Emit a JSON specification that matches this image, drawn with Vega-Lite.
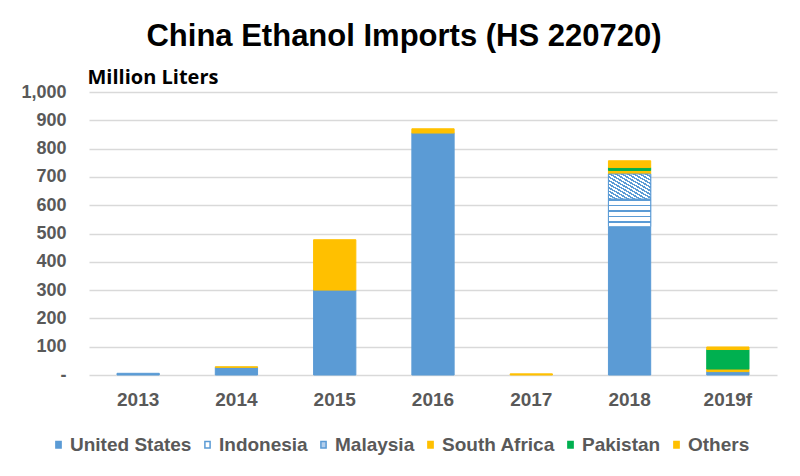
{
  "$schema": "https://vega.github.io/schema/vega-lite/v6.json",
  "width": 688,
  "height": 283,
  "autosize": {"type": "none"},
  "padding": {"left": 89, "top": 92, "right": 23, "bottom": 101},
  "background": "white",
  "title": {
    "text": "China Ethanol Imports (HS 220720)",
    "font": "Liberation Sans",
    "fontSize": 31,
    "fontWeight": "bold",
    "color": "#000000",
    "anchor": "middle",
    "frame": "group",
    "dx": -29,
    "offset": 14
  },
  "data": {
    "values": [
      {"year": "2013", "country": "United States", "value": 6},
      {"year": "2014", "country": "United States", "value": 27},
      {"year": "2014", "country": "Others", "value": 2},
      {"year": "2015", "country": "United States", "value": 300},
      {"year": "2015", "country": "South Africa", "value": 178},
      {"year": "2016", "country": "United States", "value": 855},
      {"year": "2016", "country": "Others", "value": 15},
      {"year": "2017", "country": "Others", "value": 4},
      {"year": "2018", "country": "United States", "value": 524},
      {"year": "2018", "country": "Indonesia", "value": 98},
      {"year": "2018", "country": "Malaysia", "value": 88},
      {"year": "2018", "country": "South Africa", "value": 13},
      {"year": "2018", "country": "Pakistan", "value": 10},
      {"year": "2018", "country": "Others", "value": 24},
      {"year": "2019f", "country": "United States", "value": 12},
      {"year": "2019f", "country": "South Africa", "value": 9},
      {"year": "2019f", "country": "Pakistan", "value": 69},
      {"year": "2019f", "country": "Others", "value": 9}
    ]
  },
  "transform": [
    {"calculate": "indexof(['United States','Indonesia','Malaysia','South Africa','Pakistan','Others'], datum.country)", "as": "ord"},
    {"stack": "value", "groupby": ["year"], "sort": [{"field": "ord", "order": "ascending"}], "as": ["v0", "v1"]}
  ],
  "encoding": {
    "x": {
      "field": "year",
      "type": "nominal",
      "scale": {"paddingInner": 0.57, "paddingOuter": 0.285},
      "axis": {
        "title": null,
        "labelAngle": 0,
        "labelFont": "Liberation Sans",
        "labelFontWeight": "bold",
        "labelFontSize": 19,
        "labelColor": "#595959",
        "labelPadding": 15,
        "ticks": false,
        "domain": false
      }
    },
    "y": {
      "field": "v0",
      "type": "quantitative",
      "scale": {"domain": [0, 1000], "nice": false},
      "axis": {
        "values": [0, 100, 200, 300, 400, 500, 600, 700, 800, 900, 1000],
        "labelExpr": "datum.value == 0 ? '-' : format(datum.value, ',')",
        "labelFont": "Liberation Sans",
        "labelFontWeight": "bold",
        "labelFontSize": 18,
        "labelColor": "#595959",
        "labelPadding": 23,
        "ticks": false,
        "domain": false,
        "gridColor": "#d9d9d9",
        "gridWidth": 1.5,
        "title": "Million Liters",
        "titleAngle": 0,
        "titleAlign": "left",
        "titleBaseline": "alphabetic",
        "titleX": -2,
        "titleY": -9,
        "titleFont": "Open Sans",
        "titleFontSize": 20,
        "titleFontWeight": "bold",
        "titleColor": "#000000"
      }
    },
    "y2": {"field": "v1"}
  },
  "layer": [
    {
      "mark": {"type": "bar", "strokeWidth": 1},
      "encoding": {
        "color": {
          "field": "country",
          "type": "nominal",
          "scale": {
            "domain": ["United States", "Indonesia", "Malaysia", "South Africa", "Pakistan", "Others"],
            "range": ["#5b9bd5", "#ffffff", "#b4cfec", "#ffc000", "#00b050", "#ffc000"]
          },
          "legend": {
            "title": null,
            "orient": "none",
            "direction": "horizontal",
            "legendX": -40,
            "legendY": 343,
            "labelFont": "Liberation Sans",
            "labelFontWeight": "bold",
            "labelFontSize": 19,
            "labelColor": "#595959",
            "labelOffset": 2,
            "columnPadding": 6,
            "symbolType": "M-0.4,-0.5H0.4V0.5H-0.4Z",
            "symbolSize": 169,
            "symbolStrokeWidth": 1.5
          }
        },
        "stroke": {
          "field": "country",
          "type": "nominal",
          "scale": {
            "domain": ["United States", "Indonesia", "Malaysia", "South Africa", "Pakistan", "Others"],
            "range": ["#5b9bd5", "#5b9bd5", "#5b9bd5", "#ffc000", "#00b050", "#ffc000"]
          },
          "legend": {
            "title": null,
            "orient": "none",
            "direction": "horizontal",
            "legendX": -40,
            "legendY": 343,
            "labelFont": "Liberation Sans",
            "labelFontWeight": "bold",
            "labelFontSize": 19,
            "labelColor": "#595959",
            "labelOffset": 2,
            "columnPadding": 6,
            "symbolType": "M-0.4,-0.5H0.4V0.5H-0.4Z",
            "symbolSize": 169,
            "symbolStrokeWidth": 1.5
          }
        }
      }
    },
    {
      "transform": [{"filter": "datum.country === 'Indonesia'"}],
      "mark": {
        "type": "bar",
        "stroke": "#5b9bd5",
        "strokeWidth": 1,
        "fill": {"gradient": "linear", "x1": 0, "y1": 0, "x2": 0, "y2": 1, "stops": [
          {"offset": 0, "color": "#5b9bd5"}, {"offset": 0.06, "color": "#5b9bd5"}, {"offset": 0.06, "color": "#ffffff"}, {"offset": 0.2, "color": "#ffffff"},
          {"offset": 0.2, "color": "#5b9bd5"}, {"offset": 0.26, "color": "#5b9bd5"}, {"offset": 0.26, "color": "#ffffff"}, {"offset": 0.4, "color": "#ffffff"},
          {"offset": 0.4, "color": "#5b9bd5"}, {"offset": 0.46, "color": "#5b9bd5"}, {"offset": 0.46, "color": "#ffffff"}, {"offset": 0.6, "color": "#ffffff"},
          {"offset": 0.6, "color": "#5b9bd5"}, {"offset": 0.66, "color": "#5b9bd5"}, {"offset": 0.66, "color": "#ffffff"}, {"offset": 0.8, "color": "#ffffff"},
          {"offset": 0.8, "color": "#5b9bd5"}, {"offset": 0.86, "color": "#5b9bd5"}, {"offset": 0.86, "color": "#ffffff"}, {"offset": 1, "color": "#ffffff"}
        ]}
      }
    },
    {
      "transform": [{"filter": "datum.country === 'Malaysia'"}],
      "mark": {
        "type": "bar",
        "stroke": "#5b9bd5",
        "strokeWidth": 1,
        "fill": {"gradient": "linear", "x1": 0, "y1": 1, "x2": 1, "y2": 0, "stops": [
          {"offset": 0, "color": "#5b9bd5"}, {"offset": 0.0357, "color": "#5b9bd5"}, {"offset": 0.0357, "color": "#ffffff"}, {"offset": 0.0714, "color": "#ffffff"},
          {"offset": 0.0714, "color": "#5b9bd5"}, {"offset": 0.1071, "color": "#5b9bd5"}, {"offset": 0.1071, "color": "#ffffff"}, {"offset": 0.1429, "color": "#ffffff"},
          {"offset": 0.1429, "color": "#5b9bd5"}, {"offset": 0.1786, "color": "#5b9bd5"}, {"offset": 0.1786, "color": "#ffffff"}, {"offset": 0.2143, "color": "#ffffff"},
          {"offset": 0.2143, "color": "#5b9bd5"}, {"offset": 0.25, "color": "#5b9bd5"}, {"offset": 0.25, "color": "#ffffff"}, {"offset": 0.2857, "color": "#ffffff"},
          {"offset": 0.2857, "color": "#5b9bd5"}, {"offset": 0.3214, "color": "#5b9bd5"}, {"offset": 0.3214, "color": "#ffffff"}, {"offset": 0.3571, "color": "#ffffff"},
          {"offset": 0.3571, "color": "#5b9bd5"}, {"offset": 0.3929, "color": "#5b9bd5"}, {"offset": 0.3929, "color": "#ffffff"}, {"offset": 0.4286, "color": "#ffffff"},
          {"offset": 0.4286, "color": "#5b9bd5"}, {"offset": 0.4643, "color": "#5b9bd5"}, {"offset": 0.4643, "color": "#ffffff"}, {"offset": 0.5, "color": "#ffffff"},
          {"offset": 0.5, "color": "#5b9bd5"}, {"offset": 0.5357, "color": "#5b9bd5"}, {"offset": 0.5357, "color": "#ffffff"}, {"offset": 0.5714, "color": "#ffffff"},
          {"offset": 0.5714, "color": "#5b9bd5"}, {"offset": 0.6071, "color": "#5b9bd5"}, {"offset": 0.6071, "color": "#ffffff"}, {"offset": 0.6429, "color": "#ffffff"},
          {"offset": 0.6429, "color": "#5b9bd5"}, {"offset": 0.6786, "color": "#5b9bd5"}, {"offset": 0.6786, "color": "#ffffff"}, {"offset": 0.7143, "color": "#ffffff"},
          {"offset": 0.7143, "color": "#5b9bd5"}, {"offset": 0.75, "color": "#5b9bd5"}, {"offset": 0.75, "color": "#ffffff"}, {"offset": 0.7857, "color": "#ffffff"},
          {"offset": 0.7857, "color": "#5b9bd5"}, {"offset": 0.8214, "color": "#5b9bd5"}, {"offset": 0.8214, "color": "#ffffff"}, {"offset": 0.8571, "color": "#ffffff"},
          {"offset": 0.8571, "color": "#5b9bd5"}, {"offset": 0.8929, "color": "#5b9bd5"}, {"offset": 0.8929, "color": "#ffffff"}, {"offset": 0.9286, "color": "#ffffff"},
          {"offset": 0.9286, "color": "#5b9bd5"}, {"offset": 0.9643, "color": "#5b9bd5"}, {"offset": 0.9643, "color": "#ffffff"}, {"offset": 1, "color": "#ffffff"}
        ]}
      }
    }
  ],
  "config": {
    "view": {"stroke": null}
  }
}
